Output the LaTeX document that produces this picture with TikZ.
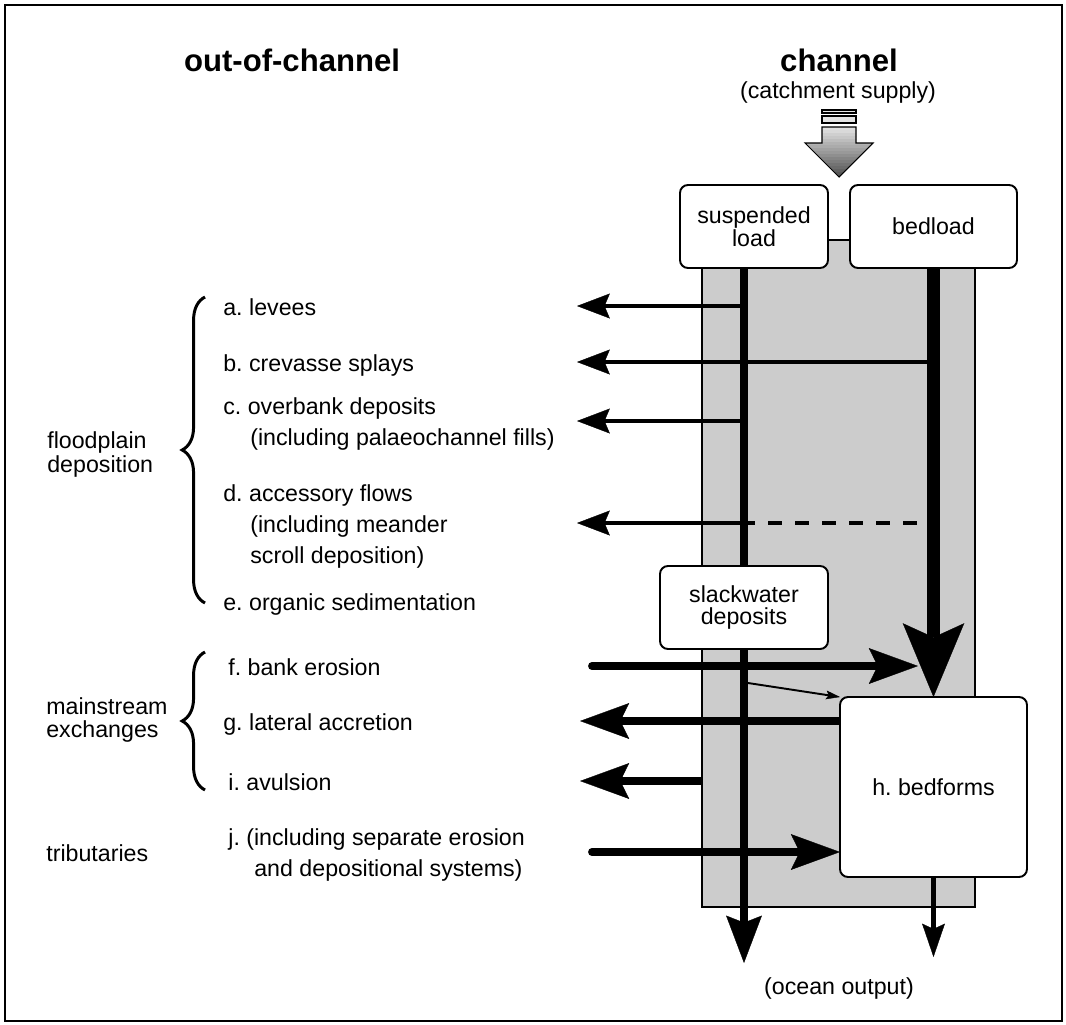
\documentclass[tikz,border=0pt]{standalone}
\usepackage{fontspec}
\setmainfont{Liberation Sans}
\usetikzlibrary{arrows.meta,decorations.pathreplacing}
\definecolor{chgray}{HTML}{CCCCCC}
\frenchspacing
\newcommand{\lblfont}{\fontsize{13.2}{13}\selectfont}
\newcommand{\headfont}{\fontsize{17.7}{20}\selectfont\bfseries}
\tikzset{
  frame/.style={draw, line width=1.2pt},
  head/.style={font=\headfont, inner sep=0pt},
  txt/.style={font=\lblfont, inner sep=0pt},
  lbl/.style={font=\lblfont, inner sep=0pt, anchor=base west},
  box/.style={draw, line width=1.1pt, rounded corners=4.5pt, fill=white, align=center, inner sep=0pt, outer sep=0pt, font=\lblfont},
  chanbox/.style={draw, line width=0.9pt, fill=chgray, minimum width=5.46cm, minimum height=13.34cm, inner sep=0pt, outer sep=0pt},
  stripe/.style={draw, line width=0.6pt, fill=gray!20},
  sline/.style={line width=4pt},
  sflow/.style={line width=4pt, -{Stealth[length=27pt, width=20.4pt, inset=4pt, line width=0.2pt]}},
  bflow/.style={line width=7.4pt, -{Stealth[length=42pt, width=35pt, inset=8pt, line width=0.2pt]}},
  thinflow/.style={line width=2.8pt, -{Stealth[length=18.7pt, width=14.2pt, inset=3pt, line width=0.2pt]}},
  midflow/.style={line width=4.5pt, -{Stealth[length=28pt, width=20.4pt, inset=5pt, line width=0.2pt]}},
  oflow/.style={line width=3pt, -{Stealth[length=19pt, width=13pt, inset=3pt, line width=0.2pt]}},
  tinyflow/.style={line width=1.1pt, -{Stealth[length=8pt, width=5pt, inset=1.5pt, line width=0.2pt]}},
  dashline/.style={line width=2.8pt, dash pattern=on 8pt off 7.4pt},
  brc/.style={decorate, decoration={brace, amplitude=13pt}, line width=1.7pt},
}

\begin{document}
\begin{tikzpicture}[x=0.02cm, y=-0.02cm]
  \useasboundingbox (0,0) rectangle (1066,1025);
  \draw[frame] (5,5) rectangle (1062,1021);

  % headings
  \node[head] (hout) at (292,60) {out-of-channel};
  \node[head] (hchan) at (839,60) {channel};
  \node[txt] (supply) at (838,92) {(catchment supply)};

  % catchment supply arrow, light at the top and dark at the tip
  \filldraw[stripe] (822,110) rectangle (856,113);
  \filldraw[stripe] (822,116) rectangle (856,123);
  \begin{scope}
    \clip (822,127) -- (856,127) -- (856,143) -- (873,143) -- (839,177) -- (805,143) -- (822,143) -- cycle;
    \foreach \i [evaluate=\i as \c using {int(12+3.6*\i)}] in {0,...,16}
      \fill[black!\c] (800,{127+3*\i}) rectangle (880,{130.5+3*\i});
  \end{scope}
  \draw[line width=0.6pt] (822,127) -- (856,127) -- (856,143) -- (873,143) -- (839,177) -- (805,143) -- (822,143) -- cycle;

  % channel and boxes
  \node[chanbox] (chan) at (838.5,573.5) {};
  \node[box, minimum width=2.96cm, minimum height=1.66cm] (susp) at (754,226.5) {suspended\\load};
  \node[box, minimum width=3.34cm, minimum height=1.66cm] (bed) at (933.5,226.5) {bedload};
  \node[box, minimum width=3.36cm, minimum height=1.66cm] (slack) at (744,607.5) {slackwater\\deposits};
  \node[box, minimum width=3.74cm, minimum height=3.6cm] (bedforms) at (933.5,787) {h. bedforms};
  \node[txt] (ocean) at (839,988) {(ocean output)};

  % main loads
  \coordinate (sl) at (susp.south -| slack.north);
  \coordinate (stip) at (744,963);
  \draw[sline] (sl) -- (slack.north);
  \draw[sflow] (slack.south) -- (stip);
  \draw[bflow] (bed.south) -- (bedforms.north);

  % floodplain deposition
  \coordinate (tipa) at (577,306);
  \coordinate (tipb) at (577,362);
  \coordinate (tipc) at (577,421);
  \coordinate (tipd) at (577,523);
  \coordinate (dend) at (917,523);
  \draw[thinflow] (sl |- tipa) -- (tipa);
  \draw[thinflow] (bed.south |- tipb) -- (tipb);
  \draw[thinflow] (sl |- tipc) -- (tipc);
  \draw[thinflow] (sl |- tipd) -- (tipd);
  \draw[dashline] (dend) -- (sl |- dend);

  % mainstream exchanges and tributaries
  \coordinate (tailf) at (592,666);
  \coordinate (tipf) at (918,666);
  \coordinate (tipg) at (580,721);
  \coordinate (tipi) at (580,781);
  \coordinate (tailj) at (592,852);
  \coordinate (tails) at (748,683);
  \coordinate (btip) at (933.5,957);
  \draw[midflow, line cap=round] (tailf) -- (tipf);
  \draw[midflow] (bedforms.west |- tipg) -- (tipg);
  \draw[midflow] (chan.west |- tipi) -- (tipi);
  \draw[midflow, line cap=round] (tailj) -- (bedforms.west |- tailj);
  \draw[tinyflow] (tails) -- (bedforms.north west);
  \draw[oflow] (bedforms.south) -- (btip);

  % left labels
  \node[lbl] (fpa) at (47,448) {floodplain};
  \node[lbl] (fpb) at (47,472) {deposition};
  \node[lbl] (msa) at (46,714) {mainstream};
  \node[lbl] (msb) at (46,737) {exchanges};
  \node[lbl] (trib) at (46,861) {tributaries};
  \draw[brc] (205,603) -- (205,297);
  \draw[brc] (205,790) -- (205,652);

  % process labels
  \node[lbl] (lbla) at (223,315) {a. levees};
  \node[lbl] (lblb) at (223,371) {b. crevasse splays};
  \node[lbl] (lblc) at (223,414) {c. overbank deposits};
  \node[lbl] (lblc2) at (250,445) {(including palaeochannel fills)};
  \node[lbl] (lbld) at (223,501) {d. accessory flows};
  \node[lbl] (lbld2) at (250,532) {(including meander};
  \node[lbl] (lbld3) at (250,563) {scroll deposition)};
  \node[lbl] (lble) at (223,610) {e. organic sedimentation};
  \node[lbl] (lblf) at (228,675) {f. bank erosion};
  \node[lbl] (lblg) at (223,730) {g. lateral accretion};
  \node[lbl] (lbli) at (228,790) {i. avulsion};
  \node[lbl] (lblj) at (228,845) {j. (including separate erosion};
  \node[lbl] (lblj2) at (254,876) {and depositional systems)};
\end{tikzpicture}
\end{document}
